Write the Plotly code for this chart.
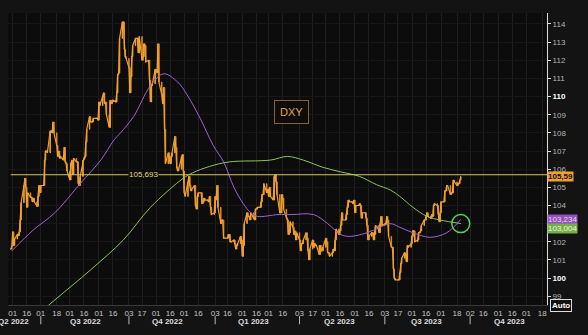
import pandas as pd
import plotly.graph_objects as go

# ---------------- data ----------------
# DXY daily closes, one row per week (Mon..Fri)
close_2022 = [
    101.6, 101.75, 102.55, 101.8, 102.15,
    102.4, 102.35, 102.55, 103.2, 104.15,
    105.1, 105.5, 105.0, 103.9, 104.7,
    104.45, 104.45, 104.2, 104.4, 104.2,
    103.95, 104.5, 105.1, 104.7, 105.1,
    105.1, 106.5, 107.0, 107.0, 106.9,
    108.1, 108.1, 108.0, 108.6, 108.0,
    107.3, 106.7, 107.0, 106.6, 106.7,
    106.5, 107.2, 106.4, 106.3, 105.9,
    105.4, 106.3, 106.5, 105.7, 106.6,
    106.4, 106.4, 105.2, 105.1, 105.6,
    106.5, 106.6, 106.7, 107.5, 108.2,
    108.9, 108.6, 108.6, 108.6, 108.8,
    108.8, 108.8, 108.7, 109.7, 109.5,
    110.0, 110.2, 109.6, 109.7, 109.0,
    108.3, 109.8, 109.6, 109.7, 109.8,
    109.7, 110.2, 111.2, 111.3, 113.2,
    114.1, 114.1, 112.6, 112.2, 112.1,
    111.6, 110.2, 111.1, 112.2, 112.8,
    113.2, 113.2, 113.2, 112.4, 113.3,
    112.0, 112.2, 112.9, 112.8, 111.9,
    112.0, 110.9, 109.7, 110.6, 110.7,
    111.5, 111.4, 111.3, 112.9, 110.8,
    110.1, 109.6, 110.5, 108.2, 106.3,
    106.9, 106.4, 106.3, 106.7, 106.9,
    107.8, 107.2, 106.1, 105.9, 106.0,
    106.7, 106.8, 105.9, 104.7, 104.5,
    105.3, 105.6, 105.1, 104.8, 104.9,
    105.1, 104.0, 103.8, 104.5, 104.7,
    104.7, 104.1, 104.2, 104.4, 104.3,
    104.3, 104.2, 104.5, 103.9, 103.5,
]
close_2023 = [
    103.6, 104.5, 104.3, 105.1, 103.9,
    103.0, 103.2, 103.2, 102.2, 102.2,
    102.2, 102.4, 102.4, 102.0, 102.0,
    102.1, 101.9, 101.6, 101.8, 101.9,
    102.3, 102.1, 101.2, 101.8, 103.0,
    103.6, 103.4, 103.4, 103.2, 103.6,
    103.3, 103.2, 103.8, 103.8, 103.9,
    103.9, 104.2, 104.6, 104.6, 105.2,
    104.7, 104.9, 104.5, 105.0, 104.5,
    104.3, 105.6, 105.7, 105.3, 104.6,
    103.6, 103.6, 104.6, 104.4, 103.8,
    103.3, 103.2, 102.4, 102.5, 103.1,
    102.8, 102.4, 102.6, 102.1, 102.5,
    102.1, 101.5, 101.9, 101.9, 102.1,
    102.5, 102.2, 101.5, 101.0, 101.6,
    102.1, 101.7, 101.9, 101.8, 101.8,
    101.3, 101.8, 101.5, 101.5, 101.7,
    102.2, 102.0, 101.4, 101.4, 101.2,
    101.4, 101.6, 101.5, 102.1, 102.7,
    102.4, 102.6, 102.9, 103.6, 103.2,
    103.2, 103.5, 103.9, 104.3, 104.2,
    104.2, 104.1, 104.3, 103.6, 104.0,
    104.0, 104.1, 104.0, 103.3, 103.6,
    103.6, 103.3, 102.9, 102.1, 102.3,
    102.5, 102.5, 102.1, 102.4, 102.9,
    102.7, 102.5, 103.0, 103.4, 102.9,
    103.0, 103.0, 103.4, 103.2, 102.3,
    101.7, 101.7, 100.5, 100.0, 99.9,
    99.9, 99.9, 100.3, 100.8, 101.1,
    101.4, 101.3, 100.9, 101.8, 101.7,
    101.9, 102.3, 102.6, 102.6, 102.0,
    102.1, 102.5, 102.5, 102.6, 102.9,
    103.2, 103.2, 103.4, 103.6, 103.4,
    103.3, 103.5, 103.4, 104.0, 104.1,
    104.0, 103.5, 103.1, 103.6, 104.2,
    104.2, 104.8, 104.8, 105.1, 105.1,
    104.6, 104.7, 104.7, 105.4, 105.3,
    105.1, 105.2, 105.2, 105.4, 105.59,
]
first_day = "2022-05-30"

# 50-day moving average (purple)
ma50_dates = ["2022-05-31", "2022-06-23", "2022-07-16", "2022-08-12", "2022-09-03",
              "2022-09-17", "2022-09-24", "2022-10-08", "2022-10-26", "2022-11-09",
              "2022-11-24", "2022-12-04", "2022-12-18", "2023-01-01", "2023-01-12",
              "2023-01-23", "2023-02-02", "2023-02-10", "2023-02-17", "2023-03-11",
              "2023-03-25", "2023-04-18", "2023-05-03", "2023-05-17", "2023-05-27",
              "2023-06-14", "2023-06-28", "2023-07-09", "2023-07-19", "2023-08-02",
              "2023-08-20", "2023-09-07", "2023-09-22"]
ma50_vals = [101.5, 102.65, 103.6, 105.2, 106.5,
             107.6, 108.0, 108.9, 110.6, 111.25,
             110.8, 110.1, 108.8, 107.3, 106.4,
             105.0, 104.1, 103.6, 103.4, 103.5,
             103.5, 103.5, 103.0, 102.4, 102.3,
             102.5, 102.8, 103.0, 102.8, 102.5,
             102.25, 102.5, 103.234]

# 200-day moving average (green)
ma200_dates = ["2022-05-31", "2022-07-16", "2022-08-23", "2022-09-27", "2022-10-26",
               "2022-11-30", "2022-12-10", "2022-12-28", "2023-01-18", "2023-03-03",
               "2023-03-21", "2023-04-07", "2023-04-28", "2023-05-17", "2023-06-06",
               "2023-06-24", "2023-07-09", "2023-07-19", "2023-08-02", "2023-08-17",
               "2023-08-31", "2023-09-22"]
ma200_vals = [96.8, 98.8, 100.45, 102.1, 103.9,
              105.5, 105.8, 106.15, 106.4, 106.5,
              106.7, 106.5, 106.1, 105.85, 105.6,
              105.15, 104.85, 104.5, 103.9, 103.4,
              103.2, 103.004]

ref_level = 105.693
last_close = 105.59
ma50_last = 103.234
ma200_last = 103.004
ticker = "DXY"

x_tick_dates = ["2022-06-01", "2022-06-16", "2022-07-01", "2022-07-18", "2022-08-01",
                "2022-08-16", "2022-09-01", "2022-09-16", "2022-10-03", "2022-10-17",
                "2022-11-01", "2022-11-16", "2022-12-01", "2022-12-16", "2023-01-03",
                "2023-01-16", "2023-02-01", "2023-02-16", "2023-03-01", "2023-03-16",
                "2023-04-03", "2023-04-17", "2023-05-01", "2023-05-16", "2023-06-01",
                "2023-06-16", "2023-07-03", "2023-07-17", "2023-08-01", "2023-08-16",
                "2023-09-01", "2023-09-18", "2023-10-02", "2023-10-16", "2023-11-01",
                "2023-11-16", "2023-12-01", "2023-12-18"]
x_tick_text = [d[-2:] for d in x_tick_dates]

quarter_labels = ["Q3 2022", "Q4 2022", "Q1 2023", "Q2 2023", "Q3 2023", "Q4 2023"]
quarter_label_dates = ["2022-08-18", "2022-11-13", "2023-02-13", "2023-05-16",
                       "2023-08-16", "2023-11-13"]
first_quarter_label = "Q2 2022"   # cut off at the left edge
quarter_starts = ["2022-07-01", "2022-10-03", "2023-01-03", "2023-04-03", "2023-07-03", "2023-10-02"]

y_ticks = list(range(99, 115))
hidden_y_ticks = [103]            # covered by the value boxes
y_tick_text = [("" if v in hidden_y_ticks else
                f"<b><span style='color:#ffffff'>{v}</span></b>" if v % 10 == 0 else str(v))
               for v in y_ticks]

x_range = ["2022-05-27", "2023-12-23"]
y_range = [98.52, 114.6]

# ---------------- figure ----------------
closes = close_2022 + close_2023
days = pd.bdate_range(first_day, periods=len(closes))
opens = [closes[0]] + closes[:-1]
highs = [max(o, c) for o, c in zip(opens, closes)]
lows = [min(o, c) for o, c in zip(opens, closes)]

ORANGE = "#f0a030"
PURPLE = "#a262d6"
GREEN = "#8cc45a"
YELLOW = "#cfc866"

fig = go.Figure()
fig.add_trace(go.Scatter(x=days, y=closes, mode="lines",
                         line=dict(color=ORANGE, width=1.2), hoverinfo="skip"))
fig.add_trace(go.Candlestick(
    x=days, open=opens, high=highs, low=lows, close=closes,
    increasing=dict(line=dict(color=ORANGE, width=1), fillcolor=ORANGE),
    decreasing=dict(line=dict(color="#d88a22", width=1), fillcolor="#d88a22"),
    whiskerwidth=0, hoverinfo="skip"))
fig.add_trace(go.Scatter(x=ma200_dates, y=ma200_vals, mode="lines",
                         line=dict(color=GREEN, width=1, shape="spline"), hoverinfo="skip"))
fig.add_trace(go.Scatter(x=ma50_dates, y=ma50_vals, mode="lines",
                         line=dict(color=PURPLE, width=1, shape="spline"), hoverinfo="skip"))

# reference level line
fig.add_shape(type="line", xref="paper", x0=0.005, x1=1, yref="y", y0=ref_level, y1=ref_level,
              line=dict(color=YELLOW, width=1), layer="above")
fig.add_annotation(xref="paper", x=0.222, yref="y", y=ref_level,
                   text=f"{ref_level:.3f}".replace(".", ","), showarrow=False,
                   font=dict(size=8, color="#e2dc80"), bgcolor="#0c0c0c", borderpad=0)

# quarter separators and labels
for q in quarter_starts:
    fig.add_shape(type="line", xref="x", x0=q, x1=q, yref="paper", y0=-0.038, y1=-0.066,
                  line=dict(color="#bbbbbb", width=1))
for lab, d in zip(quarter_labels, quarter_label_dates):
    fig.add_annotation(xref="x", x=d, yref="paper", y=-0.055, yanchor="middle",
                       text=f"<b>{lab}</b>", showarrow=False,
                       font=dict(size=8, color="#dddddd"))
fig.add_annotation(xref="paper", x=0.043, xanchor="right", yref="paper", y=-0.055,
                   yanchor="middle", text=f"<b>{first_quarter_label}</b>", showarrow=False,
                   font=dict(size=8, color="#dddddd"))

# ticker box
fig.add_annotation(xref="paper", x=0.526, yref="paper", y=0.702, text=ticker,
                   showarrow=False, font=dict(size=11, color="#eaa43a"),
                   bordercolor="#8a6428", borderwidth=1, borderpad=5, bgcolor="#0c0c0c")

# value labels on the right axis
fig.add_annotation(xref="paper", x=1.0, xanchor="left", yref="y", y=last_close,
                   text=f"<b>{last_close:.2f}</b>".replace(".", ","), showarrow=False,
                   font=dict(size=8, color="#111111"), bgcolor=ORANGE, borderpad=0)
fig.add_annotation(xref="paper", x=1.0, xanchor="left", yref="y", y=ma50_last,
                   text=f"{ma50_last:.3f}".replace(".", ","), showarrow=False,
                   font=dict(size=8, color="#ead8f6"), bgcolor="#9350bd", borderpad=0)
fig.add_annotation(xref="paper", x=1.0, xanchor="left", yref="y", y=ma200_last, yshift=-5,
                   text=f"{ma200_last:.3f}".replace(".", ","), showarrow=False,
                   font=dict(size=8, color="#eef8e0"), bgcolor="#74b043", borderpad=0)
fig.add_annotation(xref="paper", x=1.006, xanchor="left", yref="paper", y=0.0,
                   yanchor="middle",
                   text="<b>Auto</b>", showarrow=False,
                   font=dict(size=8, color="#ffffff"), bgcolor="#111111",
                   bordercolor="#dddddd", borderwidth=1, borderpad=1)

# green circle marking the cross
fig.add_shape(type="circle", xref="x", yref="y", xsizemode="pixel", ysizemode="pixel",
              xanchor=ma50_dates[-1], yanchor=ma200_last, x0=-9, x1=9, y0=-9, y1=9,
              line=dict(color="#5ccf5c", width=1.5))

fig.update_layout(
    width=588, height=335,
    margin=dict(l=8, r=41, t=13, b=30),
    paper_bgcolor="#131313", plot_bgcolor="#0c0c0c",
    showlegend=False,
    font=dict(family="Arial, Liberation Sans, sans-serif", size=8, color="#bbbbbb"),
)
fig.update_xaxes(type="date", range=x_range, tickvals=x_tick_dates, ticktext=x_tick_text,
                 showgrid=True, gridcolor="#1f1f1f", gridwidth=1,
                 rangeslider_visible=False, showline=True, linecolor="#3a3a3a",
                 ticks="", tickfont=dict(size=8, color="#c4c4c4"), zeroline=False,
                 tickangle=0)
fig.update_yaxes(side="right", range=y_range, tickvals=y_ticks, ticktext=y_tick_text,
                 showgrid=True, gridcolor="#171717", showline=True, linecolor="#dddddd",
                 ticks="outside", ticklen=3, tickcolor="#dddddd",
                 tickfont=dict(size=8, color="#b4b4b4"), zeroline=False)

fig.write_html("out.html")
